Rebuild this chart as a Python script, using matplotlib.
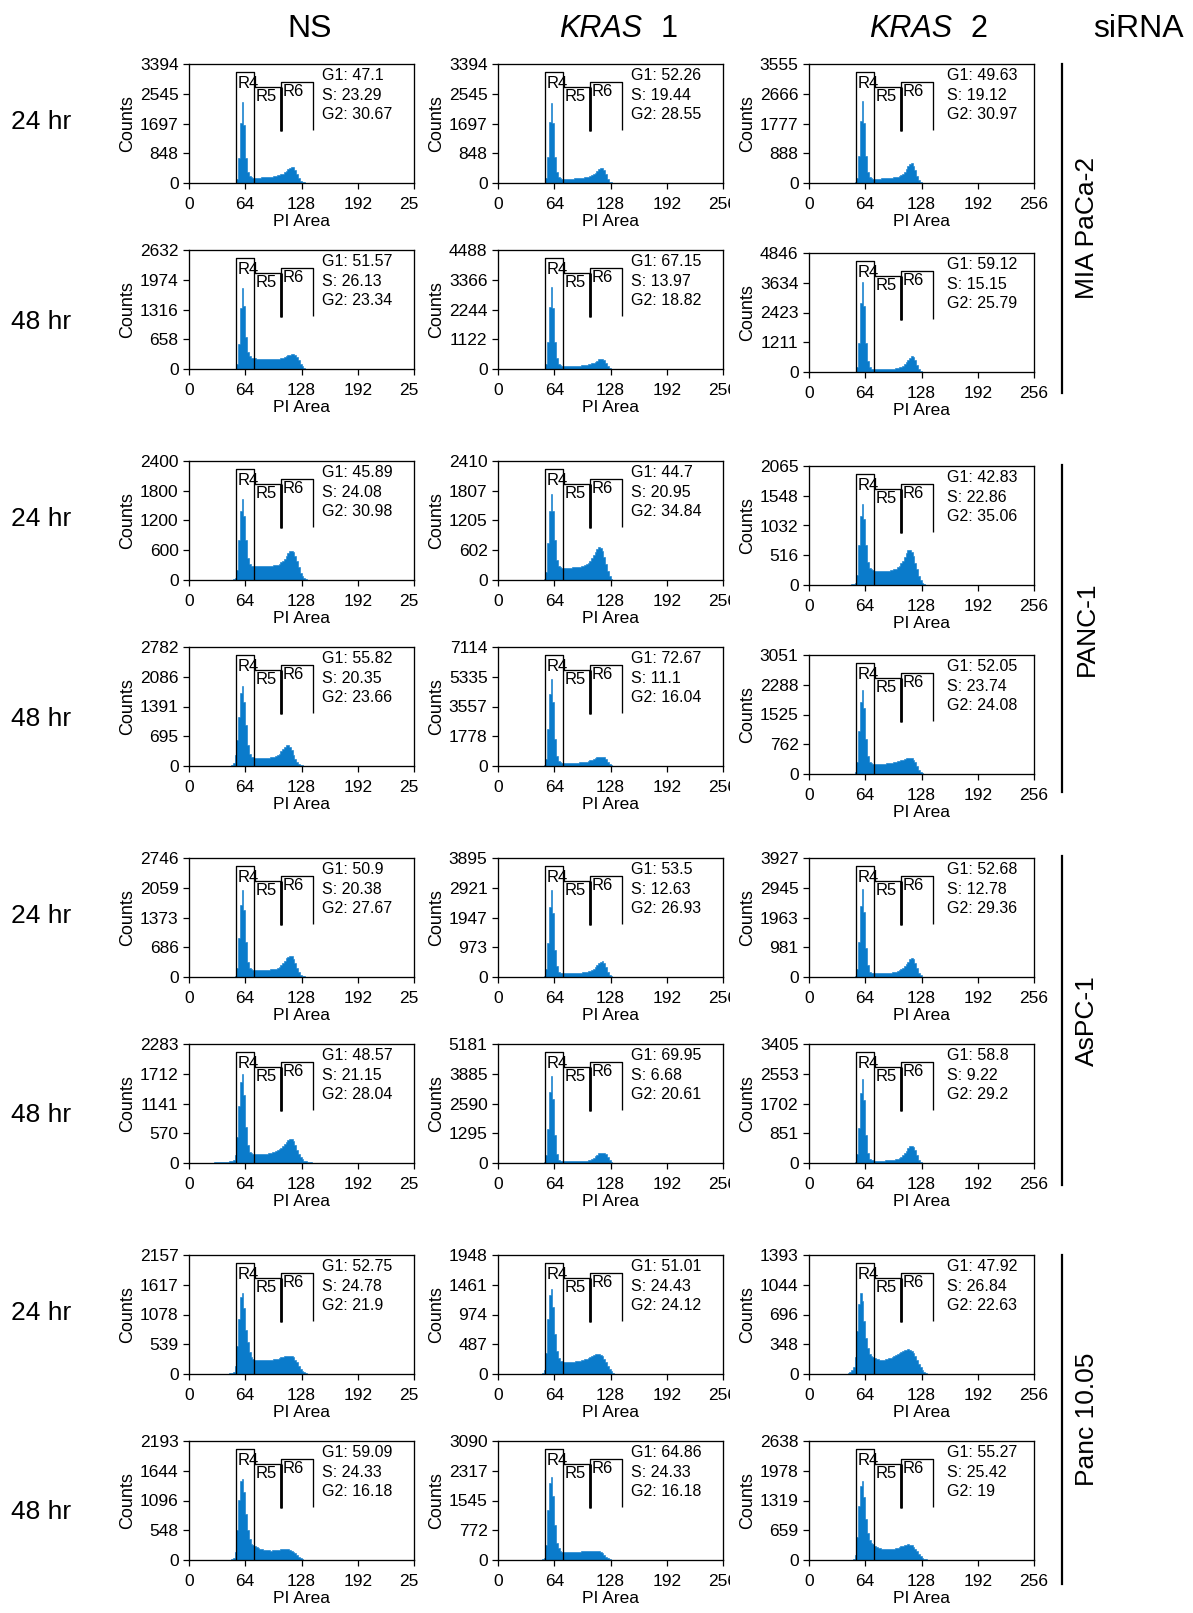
import numpy as np
import matplotlib.pyplot as plt
from matplotlib.lines import Line2D
from matplotlib.transforms import Bbox

plt.rcParams['font.family'] = ['Liberation Sans', 'DejaVu Sans']

W, H = 1193, 1613

cell_lines = ['MIA PaCa-2', 'PANC-1', 'AsPC-1', 'Panc 10.05']
times = ['24 hr', '48 hr']
sirna = ['NS', 'KRAS 1', 'KRAS 2']

# y axis maximum of every panel (rows: cell line x time, cols: siRNA)
ymax = [[3394, 3394, 3555],
        [2632, 4488, 4846],
        [2400, 2410, 2065],
        [2782, 7114, 3051],
        [2746, 3895, 3927],
        [2283, 5181, 3405],
        [2157, 1948, 1393],
        [2193, 3090, 2638]]

g1 = [[47.1, 52.26, 49.63], [51.57, 67.15, 59.12],
      [45.89, 44.7, 42.83], [55.82, 72.67, 52.05],
      [50.9, 53.5, 52.68], [48.57, 69.95, 58.8],
      [52.75, 51.01, 47.92], [59.09, 64.86, 55.27]]
s_ph = [[23.29, 19.44, 19.12], [26.13, 13.97, 15.15],
        [24.08, 20.95, 22.86], [20.35, 11.1, 23.74],
        [20.38, 12.63, 12.78], [21.15, 6.68, 9.22],
        [24.78, 24.43, 26.84], [24.33, 24.33, 25.42]]
g2 = [[30.67, 28.55, 30.97], [23.34, 18.82, 25.79],
      [30.98, 34.84, 35.06], [23.66, 16.04, 24.08],
      [27.67, 26.93, 29.36], [28.04, 20.61, 29.2],
      [21.9, 24.12, 22.63], [16.18, 16.18, 19]]

# PI histograms, 2-channel bins, first bin centre in hist_start
hist_start = [[45, 45, 45], [45, 45, 45], [45, 45, 45], [45, 45, 45],
              [45, 39, 45], [29, 41, 45], [45, 45, 45], [45, 45, 45]]

mia_24 = [
    [0,0,0,0,10,120,700,1700,2300,1650,700,300,190,160,150,150,150,155,155,160,160,165,170,175,180,185,195,205,215,230,250,270,300,340,390,440,470,450,380,260,130,50,25,15,5],
    [0,0,0,0,10,130,750,1750,2280,1700,750,300,170,135,125,120,120,120,125,125,125,130,130,135,140,145,150,160,170,185,200,220,250,290,340,390,425,430,380,260,120,40,15,5],
    [0,0,0,0,15,140,800,1850,2450,1800,800,320,180,140,130,130,130,130,130,135,135,140,140,145,150,155,165,175,190,210,240,280,340,420,510,570,585,520,380,220,90,30,10]]
mia_48 = [
    [0,0,0,0,10,100,550,1350,1800,1400,700,380,290,250,240,235,230,225,220,220,215,215,215,215,215,215,220,220,225,230,240,250,265,280,300,320,330,330,310,260,190,120,60,25,10,5],
    [0,0,0,0,15,180,1000,2350,3100,2300,1000,400,200,140,125,120,120,120,120,120,125,125,125,130,130,135,140,150,160,175,190,210,240,280,320,360,380,375,330,230,110,35,10],
    [0,0,0,0,20,200,1200,2800,3650,2700,1200,450,200,130,110,110,110,110,110,110,115,115,120,120,125,130,140,150,165,185,210,250,310,390,490,590,660,620,470,270,110,35,10]]
panc1_24 = [
    [0,5,10,15,40,200,800,1400,1640,1300,800,450,330,290,285,285,285,285,285,285,285,285,285,285,285,290,295,300,310,330,360,390,430,480,540,580,593,570,490,380,260,150,80,35,15,5],
    [0,0,0,5,20,160,750,1400,1750,1400,800,400,280,255,250,250,250,250,250,250,255,255,260,265,270,275,285,300,320,350,390,440,500,570,630,660,650,590,470,320,180,80,30,10],
    [0,5,10,15,40,180,700,1200,1400,1150,700,400,300,280,260,250,245,243,243,243,243,245,248,250,255,262,270,285,305,335,375,425,490,550,600,607,580,500,390,270,160,80,35,15,5]]
panc1_48 = [
    [5,10,20,60,250,600,1150,1700,1870,1500,950,500,270,210,200,195,195,195,195,195,195,195,195,195,200,205,215,230,250,290,340,400,450,480,487,450,370,260,160,90,50,25,12,5],
    [0,0,0,10,60,400,2200,4300,5200,3800,1600,600,300,220,200,200,200,200,200,200,200,200,200,205,210,215,225,240,260,290,330,380,440,500,540,550,550,545,520,420,250,100,30,10],
    [0,0,5,10,50,300,1100,1850,2150,1700,900,450,300,270,262,260,260,260,260,262,265,268,272,278,285,292,300,310,322,335,350,368,385,398,405,405,400,370,300,200,110,50,20,8]]
aspc1_24 = [
    [0,0,0,5,30,200,900,1650,2000,1550,800,350,210,180,172,170,170,168,168,168,168,170,170,172,175,180,188,195,210,235,270,320,380,430,465,480,475,420,320,200,110,55,25,12,5],
    [2,2,3,3,5,8,12,40,250,1100,2300,2850,2100,900,350,170,140,130,128,125,125,125,125,125,128,130,132,135,140,148,158,172,185,205,235,275,330,400,465,505,515,460,330,170,60,20,5],
    [0,3,6,10,40,260,1150,2350,2900,2150,950,380,180,145,135,132,130,130,130,130,132,135,138,142,148,155,165,178,195,220,255,300,360,430,510,580,620,590,470,300,140,50,15,5]]
aspc1_48 = [
    [10,12,12,15,15,18,20,22,25,30,40,60,150,500,1100,1550,1700,1300,700,350,220,190,180,175,170,170,170,172,175,178,182,188,195,205,218,235,245,265,290,325,365,405,440,460,460,420,340,250,170,110,70,45,30,20,14,10,7,5,3,2],
    [5,8,10,12,15,20,60,350,1500,3100,3800,2800,1200,400,150,90,78,75,75,75,75,75,75,75,78,80,82,85,90,95,105,120,145,180,230,300,370,420,440,440,430,380,260,110,35,10],
    [0,3,6,10,40,250,1000,2000,2400,1800,800,280,110,80,72,70,70,70,70,70,70,72,74,77,80,85,92,102,118,140,170,215,275,350,420,480,500,470,370,230,100,35,10]]
panc1005_24 = [
    [5,10,20,45,150,500,1000,1400,1470,1200,800,580,400,300,265,258,255,255,252,250,248,248,250,252,255,260,265,272,280,290,300,312,322,330,335,335,325,300,260,210,150,95,55,28,12,5],
    [0,0,5,15,60,350,900,1300,1390,1100,650,380,260,215,205,200,200,198,198,198,198,200,205,210,215,222,230,240,252,265,280,295,310,322,330,330,318,290,245,190,130,80,45,20,8,3],
    [10,25,50,80,200,500,820,943,850,620,420,300,230,205,198,190,180,172,168,167,167,170,175,182,190,200,210,222,234,245,256,265,276,284,287,282,265,240,205,165,120,80,45,20,8]]
panc1005_48 = [
    [3,8,15,40,150,550,1100,1450,1500,1250,850,550,380,300,270,250,232,218,205,195,188,182,178,176,175,176,178,182,186,190,195,198,200,200,198,190,175,150,120,90,60,35,18,8,3],
    [0,0,5,15,60,400,1300,2000,2150,1650,900,450,300,240,220,215,212,210,210,210,210,210,212,215,218,222,226,230,234,238,240,242,242,240,235,225,205,175,135,90,55,28,12,5],
    [0,5,10,25,100,500,1200,1650,1757,1400,900,600,450,380,345,320,295,275,258,245,238,235,235,237,240,245,252,262,275,290,305,320,333,342,345,340,322,290,245,190,135,88,52,28,14,6,2]]

hists = [mia_24, mia_48, panc1_24, panc1_48, aspc1_24, aspc1_48, panc1005_24, panc1005_48]

# layout in pixels
col_left = [189, 498, 809]
row_top = [[64, 64, 64], [250, 250, 253], [461, 461, 466], [647, 647, 655],
           [858, 858, 858], [1044, 1044, 1044], [1255, 1255, 1255], [1441, 1441, 1441]]
AW, AH = 225, 119
clip_right = [418, 730, None]
stat_x = [151.5, 151.5, 156.5]
blue = '#0a7bcb'

fig = plt.figure(figsize=(W / 100, H / 100), dpi=100)

for r in range(8):
    for c in range(3):
        left, top = col_left[c], row_top[r][c]
        ax = fig.add_axes([left / W, 1 - (top + AH) / H, AW / W, AH / H])
        counts = np.array(hists[r][c], float)
        edges = hist_start[r][c] - 1 + 2 * np.arange(len(counts) + 1)
        ax.stairs(counts, edges, fill=True, facecolor=blue, edgecolor=blue, lw=0.4)

        ym = ymax[r][c]
        ax.set_xlim(0, 256)
        ax.set_ylim(0, ym)
        ax.set_xticks([0, 64, 128, 192, 256])
        ax.set_xticklabels(['0', '64', '128', '192', ''])
        yt = [0, ym / 4, ym / 2, 3 * ym / 4, ym]
        ax.set_yticks(yt)
        ax.set_yticklabels([str(int(v)) for v in yt])
        ax.tick_params(direction='out', length=4.5, width=0.9,
                       labelsize=12.5, color='black')
        ax.tick_params(axis='x', pad=5.5)
        ax.tick_params(axis='y', pad=3.0)
        for sp in ax.spines.values():
            sp.set_linewidth(0.95)

        lab = ax.annotate('256', xy=(256, 0), xycoords=('data', 'axes fraction'),
                          xytext=(0, -10), textcoords='offset points',
                          ha='center', va='top', fontsize=12.5)
        if clip_right[c] is not None:
            lab.set_clip_box(Bbox([[0, 0], [clip_right[c], H]]))
            lab.set_clip_on(True)

        ax.set_ylabel('Counts', fontsize=13)
        ax.yaxis.set_label_coords(-53 / AW, 0.5)
        ax.set_xlabel('PI Area', fontsize=12.5)
        ax.xaxis.set_label_coords(0.5, -31 / AH)

        tr = ax.get_xaxis_transform()
        kw = dict(color='black', transform=tr, clip_on=False, solid_capstyle='butt')
        ax.plot([53.9, 53.9, 74, 74], [0, 0.93, 0.93, 0], lw=0.95, **kw)
        ax.plot([74, 104.5], [0.81, 0.81], lw=0.95, **kw)
        ax.plot([104.5, 104.5], [0.81, 0.44], lw=2.0, **kw)
        ax.plot([104.5, 104.5, 141, 141], [0.44, 0.852, 0.852, 0.448], lw=0.95, **kw)
        ax.text(55.0, 0.895, 'R4', transform=tr, fontsize=12, va='top')
        ax.text(76.0, 0.79, 'R5', transform=tr, fontsize=12, va='top')
        ax.text(106.0, 0.83, 'R6', transform=tr, fontsize=12, va='top')
        ax.text(stat_x[c], 0.965,
                f'G1: {g1[r][c]:g}\nS: {s_ph[r][c]:g}\nG2: {g2[r][c]:g}',
                transform=tr, fontsize=11.5, va='top', linespacing=1.38)

# row labels
row_label_y = [122, 322, 519, 719, 916, 1115, 1313, 1512]
for i, y in enumerate(row_label_y):
    fig.text(41 / W, 1 - y / H, times[i % 2], fontsize=19, ha='center', va='center')

# column headers
hy = 1 - 29 / H
fig.text(310 / W, hy, sirna[0], fontsize=23, ha='center', va='center')
fig.text(642 / W, hy, 'KRAS', fontsize=22, ha='right', va='center', style='italic')
fig.text(661 / W, hy, '1', fontsize=22, ha='left', va='center')
fig.text(952 / W, hy, 'KRAS', fontsize=22, ha='right', va='center', style='italic')
fig.text(971 / W, hy, '2', fontsize=22, ha='left', va='center')
fig.text(1138 / W, hy, 'siRNA', fontsize=23, ha='center', va='center')

# cell line brackets
bar_spans = [(64, 393), (465, 792), (856, 1185), (1255, 1584)]
label_y = [228, 629, 1021, 1419]
for name, (y0, y1), ly in zip(cell_lines, bar_spans, label_y):
    fig.add_artist(Line2D([1062 / W, 1062 / W], [1 - y0 / H, 1 - y1 / H],
                          color='black', lw=1.6, transform=fig.transFigure))
    fig.text(1087 / W, 1 - ly / H, name, fontsize=19, rotation=90,
             ha='center', va='center')

fig.savefig('out.png', dpi=100)
